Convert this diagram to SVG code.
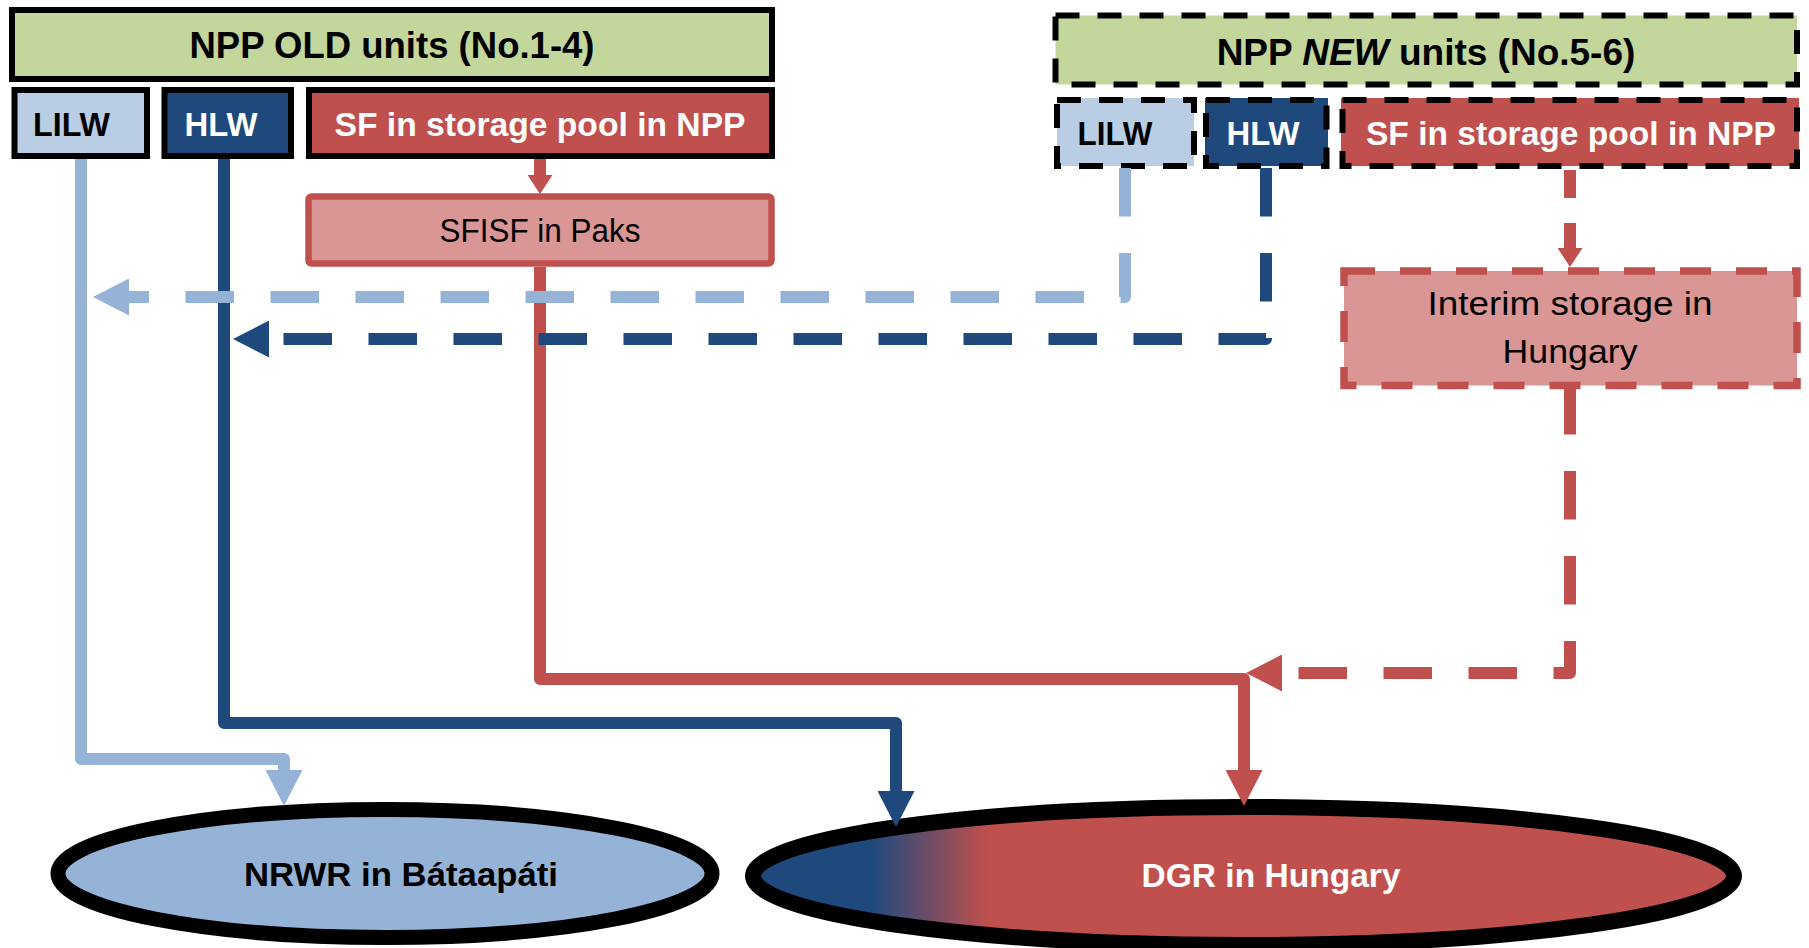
<svg xmlns="http://www.w3.org/2000/svg" width="1809" height="948" viewBox="0 0 1809 948">
<style>
  .t { font-family: "Liberation Sans", Arial, sans-serif; }
  .b { font-weight: bold; }
  .blk { fill: #000000; }
  .wht { fill: #FFFFFF; }
  .hdr { fill: #C3D69B; stroke: #000000; stroke-width: 6; }
  .lb60 { fill: #B9CDE5; }
  .db { fill: #1F497D; }
  .red { fill: #C0504D; }
  .solidK { stroke: #000000; stroke-width: 6; }
  .dashK { stroke: #000000; stroke-width: 6; stroke-dasharray: 24 18; fill: none; }
  .pink { fill: #D99694; stroke: #C0504D; }
  .conn { fill: none; stroke-width: 12; stroke-linejoin: round; }
  .dash { stroke-dasharray: 48.5 36.5; }
</style>
<defs>
  <marker id="aLB" viewBox="0 0 36 37" refX="1" refY="18.5" markerWidth="36" markerHeight="37" markerUnits="userSpaceOnUse" orient="auto">
    <path d="M0,0 L36,18.5 L0,37 Z" fill="#95B3D7"/>
  </marker>
  <marker id="aDB" viewBox="0 0 36 37" refX="1" refY="18.5" markerWidth="36" markerHeight="37" markerUnits="userSpaceOnUse" orient="auto">
    <path d="M0,0 L36,18.5 L0,37 Z" fill="#1F497D"/>
  </marker>
  <marker id="aR" viewBox="0 0 36 37" refX="1" refY="18.5" markerWidth="36" markerHeight="37" markerUnits="userSpaceOnUse" orient="auto">
    <path d="M0,0 L36,18.5 L0,37 Z" fill="#C0504D"/>
  </marker>
  <marker id="aRs" viewBox="0 0 19 25" refX="1" refY="12.5" markerWidth="19" markerHeight="25" markerUnits="userSpaceOnUse" orient="auto">
    <path d="M0,0 L19,12.5 L0,25 Z" fill="#C0504D"/>
  </marker>
  <linearGradient id="dgrGrad" gradientUnits="userSpaceOnUse" x1="872" y1="0" x2="988" y2="0">
    <stop offset="0" stop-color="#1F497D"/>
    <stop offset="1" stop-color="#C0504D"/>
  </linearGradient>
</defs>
<rect width="1809" height="948" fill="#FFFFFF"/>

<!-- OLD units -->
<g id="old-header">
  <rect class="hdr" x="12" y="10" width="760" height="69"/>
  <text class="t b blk" x="392" y="58" font-size="36" text-anchor="middle" textLength="405" lengthAdjust="spacingAndGlyphs">NPP OLD units (No.1-4)</text>
</g>
<g id="old-lilw">
  <rect class="lb60 solidK" x="14.5" y="90" width="132.5" height="66"/>
  <text class="t b blk" x="71.5" y="136" font-size="34" text-anchor="middle" textLength="77" lengthAdjust="spacingAndGlyphs">LILW</text>
</g>
<g id="old-hlw">
  <rect class="db solidK" x="164.5" y="90" width="126.5" height="66"/>
  <text class="t b wht" x="221" y="136" font-size="34" text-anchor="middle" textLength="73" lengthAdjust="spacingAndGlyphs">HLW</text>
</g>
<g id="old-sf">
  <rect class="red solidK" x="309" y="90" width="463" height="66"/>
  <text class="t b wht" x="540" y="136" font-size="34" text-anchor="middle" textLength="411" lengthAdjust="spacingAndGlyphs">SF in storage pool in NPP</text>
</g>
<g id="sfisf">
  <rect class="pink" stroke-width="6.5" x="308.5" y="196.5" width="463" height="67" rx="3"/>
  <text class="t blk" x="540" y="242" font-size="34" text-anchor="middle" textLength="201" lengthAdjust="spacingAndGlyphs">SFISF in Paks</text>
</g>

<!-- NEW units -->
<g id="new-header">
  <rect fill="#C3D69B" x="1055.5" y="15.5" width="741.5" height="69"/>
  <rect class="dashK" x="1055.5" y="15.5" width="741.5" height="69"/>
  <text class="t b blk" x="1426" y="65" font-size="37" text-anchor="middle">NPP <tspan font-style="italic">NEW</tspan> units (No.5-6)</text>
</g>
<g id="new-lilw">
  <rect class="lb60" x="1057" y="98" width="137" height="68"/>
  <rect class="dashK" x="1057" y="100" width="137" height="66"/>
  <text class="t b blk" x="1115" y="145" font-size="34" text-anchor="middle" textLength="75" lengthAdjust="spacingAndGlyphs">LILW</text>
</g>
<g id="new-hlw">
  <rect class="db" x="1205" y="98" width="123" height="68"/>
  <rect class="dashK" x="1206" y="100" width="120.5" height="66"/>
  <text class="t b wht" x="1263" y="145" font-size="34" text-anchor="middle" textLength="73" lengthAdjust="spacingAndGlyphs">HLW</text>
</g>
<g id="new-sf">
  <rect class="red" x="1341" y="98" width="458" height="68"/>
  <rect class="dashK" x="1342.5" y="100" width="454.5" height="66"/>
  <text class="t b wht" x="1571" y="145" font-size="34" text-anchor="middle" textLength="410" lengthAdjust="spacingAndGlyphs">SF in storage pool in NPP</text>
</g>
<g id="interim">
  <rect class="pink" stroke-width="7.5" stroke-dasharray="31 25" x="1344" y="271" width="453" height="114.5"/>
  <text class="t blk" x="1570" y="315" font-size="34" text-anchor="middle" textLength="285" lengthAdjust="spacingAndGlyphs">Interim storage in</text>
  <text class="t blk" x="1570" y="363" font-size="34" text-anchor="middle" textLength="135" lengthAdjust="spacingAndGlyphs">Hungary</text>
</g>

<!-- Repositories -->
<g id="nrwr">
  <ellipse cx="385" cy="873.5" rx="327" ry="64" fill="#95B3D7" stroke="#000000" stroke-width="15"/>
  <text class="t b blk" x="401" y="886" font-size="34" text-anchor="middle" textLength="314" lengthAdjust="spacingAndGlyphs">NRWR in Bátaapáti</text>
</g>
<g id="dgr">
  <ellipse cx="1243.5" cy="876" rx="490.5" ry="69" fill="url(#dgrGrad)" stroke="#000000" stroke-width="16"/>
  <text class="t b wht" x="1271" y="887" font-size="34" text-anchor="middle" textLength="259" lengthAdjust="spacingAndGlyphs">DGR in Hungary</text>
</g>

<!-- Connectors -->
<g id="connectors">
  <path class="conn" stroke="#95B3D7" d="M81,159 V759 H284 V771" marker-end="url(#aLB)"/>
  <path class="conn" stroke="#1F497D" d="M224,159 V723 H896 V792" marker-end="url(#aDB)"/>
  <path class="conn" stroke="#C0504D" d="M540,267 V679 H1244 V771" marker-end="url(#aR)"/>
  <path class="conn" stroke="#C0504D" stroke-width="7" d="M540,159 V176" marker-end="url(#aRs)"/>
  <path class="conn dash" stroke="#95B3D7" d="M1125,168 V297 H128" marker-end="url(#aLB)"/>
  <path class="conn dash" stroke="#1F497D" d="M1266,168 V339 H268" marker-end="url(#aDB)"/>
  <path class="conn" stroke="#C0504D" stroke-width="7" stroke-dasharray="28 25" d="M1570,170 V249" marker-end="url(#aRs)"/>
  <path class="conn dash" stroke="#C0504D" d="M1570,386 V673 H1281" marker-end="url(#aR)"/>
</g>
</svg>
